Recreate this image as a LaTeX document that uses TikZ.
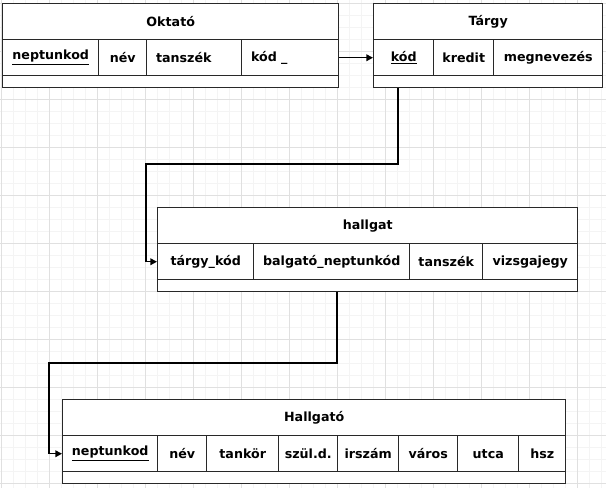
\documentclass[tikz,border=0pt]{standalone}
\usepackage{fontspec}
\setmainfont{DejaVu Sans}
\usetikzlibrary{arrows.meta}
\definecolor{racs-halvany}{RGB}{244,244,244}
\definecolor{racs-eros}{RGB}{224,224,224}
\definecolor{keret}{RGB}{40,40,40}

\begin{document}
\begin{tikzpicture}[x=0.75pt,y=-0.75pt,
    every node/.style={font=\fontsize{9.5}{11}\selectfont\bfseries},
    fejlec/.style={draw=keret,line width=1.1pt,fill=white,anchor=north west,inner sep=0pt,minimum height=27pt},
    cella/.style={draw=keret,line width=1.1pt,fill=white,anchor=north west,inner xsep=3pt,inner ysep=0pt,minimum height=27pt},
    alja/.style={draw=keret,line width=1.1pt,fill=white,anchor=north west,inner sep=0pt,minimum height=9pt},
    kapcsolat/.style={line width=1.1pt,-{Triangle[length=5pt,width=5pt]}}]
    \useasboundingbox[fill=white] (0,0) rectangle (606,488);

    % racsozat
    \foreach \gx in {1,13,...,601} \draw[racs-halvany,line width=0.6pt] (\gx,0) -- (\gx,488);
    \foreach \gy in {3,15,...,487} \draw[racs-halvany,line width=0.6pt] (0,\gy) -- (606,\gy);
    \foreach \gx in {1,49,...,577} \draw[racs-eros,line width=0.6pt] (\gx,0) -- (\gx,488);
    \foreach \gy in {3,51,...,483} \draw[racs-eros,line width=0.6pt] (0,\gy) -- (606,\gy);

    % Oktato
    \node[fejlec,minimum width=336*0.75pt] (okt-fej) at (2,3) {Oktató};
    \foreach \x/\w/\a/\t [count=\i] in {2/96/center/{\underline{neptunkod}},98/48/center/név,
        146/95/left/{\hspace*{4pt}tanszék},241/97/left/{\hspace*{4pt}kód \_}} {
        \pgfmathsetmacro\tw{(\w-8)*0.75}
        \node[cella,minimum width=\w*0.75pt,text width=\tw pt,align=\a] (okt-\i) at (\x,39) {\t};
    }
    \node[alja,minimum width=336*0.75pt] (okt-alj) at (2,75) {};

    % Targy
    \node[fejlec,minimum width=229*0.75pt] (targy-fej) at (373,3) {Tárgy};
    \foreach \x/\w/\a/\t [count=\i] in {373/60/center/{\underline{kód}},433/60/center/kredit,
        493/109/center/megnevezés} {
        \pgfmathsetmacro\tw{(\w-8)*0.75}
        \node[cella,minimum width=\w*0.75pt,text width=\tw pt,align=\a] (targy-\i) at (\x,39) {\t};
    }
    \node[alja,minimum width=229*0.75pt] (targy-alj) at (373,75) {};

    % hallgat
    \node[fejlec,minimum width=420*0.75pt] (hallgat-fej) at (157,207) {hallgat};
    \foreach \x/\w/\a/\t [count=\i] in {157/96/center/tárgy\_kód,253/156/center/balgató\_neptunkód,
        409/73/center/tanszék,482/95/center/vizsgajegy} {
        \pgfmathsetmacro\tw{(\w-8)*0.75}
        \node[cella,minimum width=\w*0.75pt,text width=\tw pt,align=\a] (hallgat-\i) at (\x,243) {\t};
    }
    \node[alja,minimum width=420*0.75pt] (hallgat-alj) at (157,279) {};

    % Hallgato
    \node[fejlec,minimum width=503*0.75pt] (hallg-fej) at (62,399) {Hallgató};
    \foreach \x/\w/\a/\t [count=\i] in {62/95/center/{\underline{neptunkod}},157/49/center/név,
        206/72/center/tankör,278/59/center/szül.d.,337/61/center/irszám,398/59/center/város,
        457/61/center/utca,518/47/center/hsz} {
        \pgfmathsetmacro\tw{(\w-8)*0.75}
        \node[cella,minimum width=\w*0.75pt,text width=\tw pt,align=\a] (hallg-\i) at (\x,435) {\t};
    }
    \node[alja,minimum width=503*0.75pt] (hallg-alj) at (62,471) {};

    % kapcsolatok
    \coordinate (k1) at (398,164);
    \coordinate (k2) at (146,164);
    \coordinate (k3) at (337,363);
    \coordinate (k4) at (49,363);
    \draw[kapcsolat] (okt-4.east) -- (targy-1.west);
    \draw[kapcsolat] (targy-alj.south -| k1) -- (k1) -- (k2) |- (hallgat-1.west);
    \draw[kapcsolat] (hallgat-alj.south -| k3) -- (k3) -- (k4) |- (hallg-1.west);
\end{tikzpicture}
\end{document}
